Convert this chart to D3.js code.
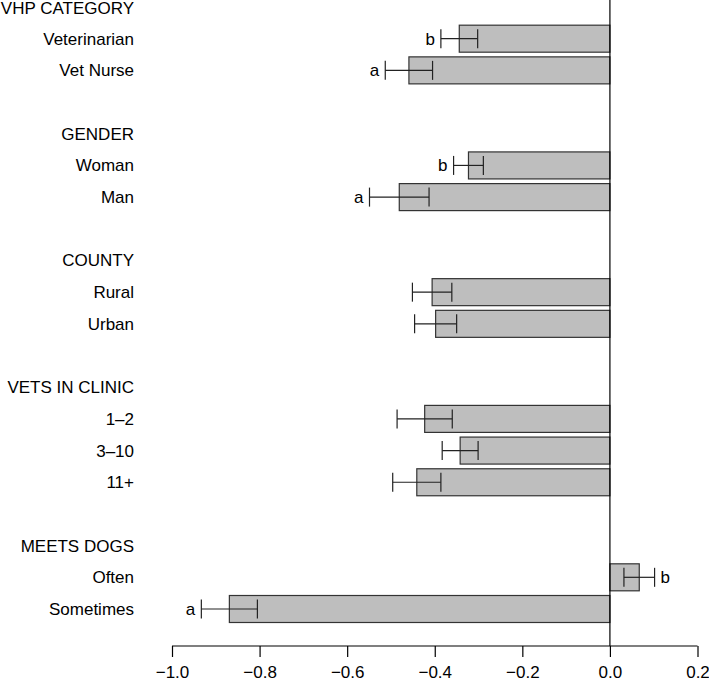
<!DOCTYPE html>
<html><head><meta charset="utf-8">
<script src="https://cdn.jsdelivr.net/npm/d3@7"></script>
<style>body{margin:0;background:#fff}svg{display:block;font-family:"Liberation Sans",Arial,Helvetica,sans-serif}</style>
</head><body><svg id="c" width="709" height="684"></svg>
<script>
const groups = ["VHP CATEGORY","GENDER","COUNTY","VETS IN CLINIC","MEETS DOGS"];
const categories = ["Veterinarian","Vet Nurse","Woman","Man","Rural","Urban","1–2","3–10","11+","Often","Sometimes"];
const categoryGroup = [0,0,1,1,2,2,3,3,3,4,4];
const means = [-0.344,-0.459,-0.323,-0.481,-0.406,-0.398,-0.423,-0.342,-0.441,0.067,-0.869];
const errors = [0.042,0.054,0.034,0.068,0.045,0.048,0.063,0.041,0.055,0.035,0.064];
const letters = ["b","a","b","a","","","","","","b","a"];
const xTicks = [-1.0,-0.8,-0.6,-0.4,-0.2,0.0,0.2];

const rows = [];
let slot = 0;
groups.forEach((g,gi)=>{
  if(gi>0) slot++;
  rows.push({type:"header",label:g,slot:slot++});
  categories.forEach((c,i)=>{
    if(categoryGroup[i]===gi) rows.push({type:"item",label:c,slot:slot++,mean:means[i],err:errors[i],letter:letters[i]});
  });
});
const nSlots = slot;

const svg = d3.select("#c");
const x = d3.scaleLinear().domain([-1.0,0.2]).range([172,697.5]);
const y = d3.scaleLinear().domain([0,nSlots-1]).range([7,609]);
const barH = 27, capH = 19;
const fs = 17;
const axisY = 646;

const items = rows.filter(r=>r.type==="item");
svg.selectAll("rect.bar").data(items).join("rect").attr("class","bar")
  .attr("x",d=>x(Math.min(0,d.mean))).attr("width",d=>Math.abs(x(d.mean)-x(0)))
  .attr("y",d=>y(d.slot)-barH/2).attr("height",barH)
  .attr("fill","#bebebe").attr("stroke","#333").attr("stroke-width",1.2);
svg.append("line").attr("x1",x(0)).attr("x2",x(0)).attr("y1",0).attr("y2",axisY)
  .attr("stroke","#000").attr("stroke-width",1.2);

const eb = svg.selectAll("g.eb").data(items).join("g").attr("class","eb")
  .attr("stroke","#222").attr("stroke-width",1.2);
eb.append("line").attr("x1",d=>x(d.mean-d.err)).attr("x2",d=>x(d.mean+d.err))
  .attr("y1",d=>y(d.slot)).attr("y2",d=>y(d.slot));
eb.append("line").attr("x1",d=>x(d.mean-d.err)).attr("x2",d=>x(d.mean-d.err))
  .attr("y1",d=>y(d.slot)-capH/2).attr("y2",d=>y(d.slot)+capH/2);
eb.append("line").attr("x1",d=>x(d.mean+d.err)).attr("x2",d=>x(d.mean+d.err))
  .attr("y1",d=>y(d.slot)-capH/2).attr("y2",d=>y(d.slot)+capH/2);

svg.selectAll("text.let").data(items.filter(d=>d.letter)).join("text").attr("class","let")
  .attr("x",d=>d.mean<0 ? x(d.mean-d.err)-6 : x(d.mean+d.err)+6)
  .attr("y",d=>y(d.slot)).attr("dy","0.35em")
  .attr("text-anchor",d=>d.mean<0?"end":"start")
  .attr("font-size",fs).attr("fill","#000").text(d=>d.letter);

svg.selectAll("text.lab").data(rows).join("text").attr("class","lab")
  .attr("x",134)
  .attr("y",d=>d.slot===0?Math.max(y(d.slot),8):y(d.slot)).attr("dy","0.35em")
  .attr("text-anchor","end")
  .attr("font-size",fs).attr("fill","#000").text(d=>d.label);

const ax = svg.append("g").attr("transform",`translate(0,${axisY})`)
  .call(d3.axisBottom(x).tickValues(xTicks).tickSize(11).tickPadding(9)
    .tickFormat(d=>d3.format(".1f")(d).replace("-","−")));
ax.select(".domain").attr("d",`M${x(-1)},0H${x(0.2)}`).attr("stroke","#000").attr("stroke-width",1.2);
ax.selectAll(".tick line").attr("stroke","#000").attr("stroke-width",1.2);
ax.selectAll(".tick text").attr("font-size",fs).attr("font-family","Liberation Sans, Arial, sans-serif").attr("fill","#000");
</script></body></html>
